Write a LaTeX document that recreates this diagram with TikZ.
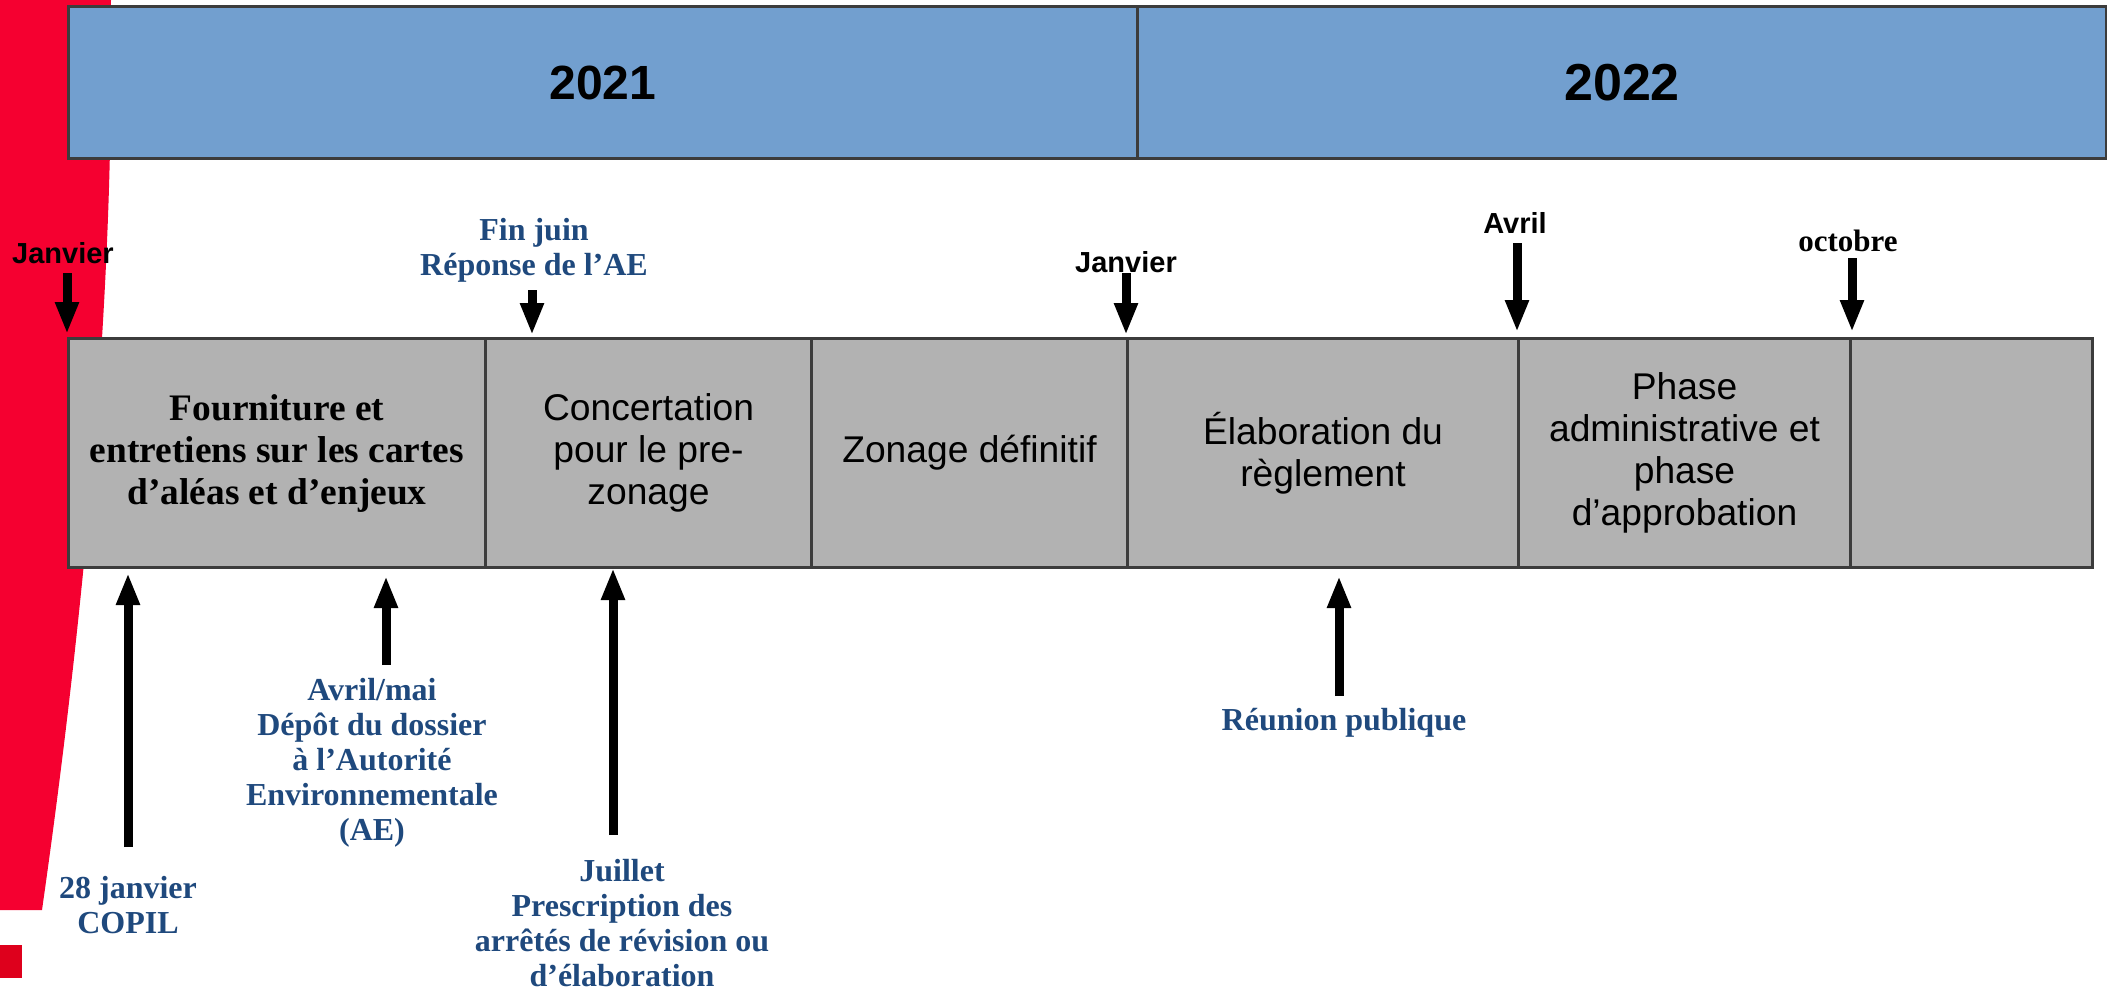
\documentclass[tikz,border=0pt]{standalone}
\usepackage{fontspec}
\setmainfont{Liberation Serif}
\setsansfont{Liberation Sans}
\usetikzlibrary{arrows.meta,positioning}
\definecolor{yearblue}{HTML}{729FCF}
\definecolor{phasegray}{HTML}{B2B2B2}
\definecolor{framegray}{HTML}{3C3C3C}
\definecolor{labelblue}{HTML}{1F497D}
\definecolor{bandred}{RGB}{245,0,48}
\definecolor{dotred}{RGB}{222,0,28}
\tikzstyle{year} = [rectangle,
                    draw=framegray,
                    fill=yearblue,
                    line width=1.5pt,
                    minimum height=76pt,
                    inner sep=0pt,
                    anchor=north west]
\tikzstyle{phase} = [rectangle,
                    align=center,
                    draw=framegray,
                    fill=phasegray,
                    line width=1.5pt,
                    minimum height=114.5pt,
                    inner sep=0pt,
                    anchor=north west,
                    font=\sffamily\fontsize{18.6}{20.9}\selectfont]
\tikzstyle{month} = [font=\sffamily\bfseries\fontsize{14.5}{16}\selectfont]
\tikzstyle{event} = [align=center,
                    text=labelblue,
                    font=\bfseries\fontsize{16}{17.5}\selectfont]
\begin{document}
\begin{tikzpicture}[x=0.5pt, y=-0.5pt,
                    >={Triangle[length=16pt,width=11pt]},
                    line width=4.5pt]
    \useasboundingbox (0,0) rectangle (2107,991);
    % red band on the left
    \fill[bandred] (0,0) -- (111,0) -- (110,150)
      .. controls (104,420) and (72,700) .. (42,910) -- (0,910) -- cycle;
    \fill[dotred] (0,945) rectangle (22,978);

    \node (y2021) [year, minimum width=534.5pt, font=\sffamily\bfseries\fontsize{24}{28}\selectfont] at (67,5) {2021};
    \node (y2022) [year, minimum width=484.5pt, font=\sffamily\bfseries\fontsize{26}{30}\selectfont] at (1136,5) {2022};

    \node (p1) [phase, minimum width=208.5pt, font=\bfseries\fontsize{18.7}{21}\selectfont] at (67,337) {Fourniture et\\entretiens sur les cartes\\d’aléas et d’enjeux};
    \node (p2) [phase, minimum width=163pt] at (484,337) {Concertation\\pour le pre-\\zonage};
    \node (p3) [phase, minimum width=158pt] at (810,337) {Zonage définitif};
    \node (p4) [phase, minimum width=195.5pt] at (1126,337) {Élaboration du\\règlement};
    \node (p5) [phase, minimum width=166pt] at (1517,337) {Phase\\administrative et\\phase\\d’approbation};
    \node (p6) [phase, minimum width=121pt] at (1849,337) {};

    \node (jan21) [month] at (63,253) {Janvier};
    \node (finjuin) [event] at (534,250) {Fin juin\\Réponse de l’AE};
    \node (jan22) [month] at (1126,262) {Janvier};
    \node (avr22) [month] at (1515,223) {Avril};
    \node (oct22) [month, font=\bfseries\fontsize{15.5}{17}\selectfont] at (1848,241) {octobre};

    \node (copil) [event] at (128,905) {28 janvier\\COPIL};
    \node (depot) [event] at (372,763) {Avril/mai\\Dépôt du dossier\\à l’Autorité\\Environnementale\\(AE)};
    \node (prescr) [event] at (622,923) {Juillet\\Prescription des\\arrêtés de révision ou\\d’élaboration};
    \node (reunion) [event] at (1344,723) {Réunion publique};

    % arrow ends
    \coordinate (t1) at (67,273);   \coordinate (h1) at (67,334);
    \coordinate (t2) at (532,290);  \coordinate (h2) at (532,335);
    \coordinate (t3) at (1126,273); \coordinate (h3) at (1126,335);
    \coordinate (t4) at (1517,243); \coordinate (h4) at (1517,332);
    \coordinate (t5) at (1852,258); \coordinate (h5) at (1852,332);
    \coordinate (t6) at (128,847);  \coordinate (h6) at (128,573);
    \coordinate (t7) at (386,665);  \coordinate (h7) at (386,576);
    \coordinate (t8) at (613,835);  \coordinate (h8) at (613,568);
    \coordinate (t9) at (1339,696); \coordinate (h9) at (1339,576);
    \path[->]
      (t1) edge (h1)
      (t2) edge (h2)
      (t3) edge (h3)
      (t4) edge (h4)
      (t5) edge (h5)
      (t6) edge (h6)
      (t7) edge (h7)
      (t8) edge (h8)
      (t9) edge (h9);
\end{tikzpicture}
\end{document}
